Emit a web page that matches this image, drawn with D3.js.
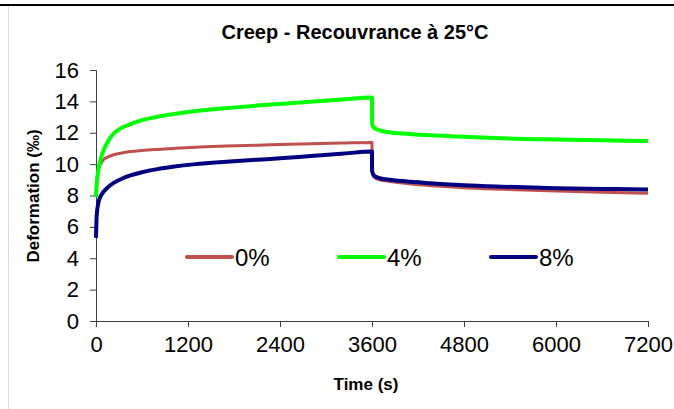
<!DOCTYPE html>
<html>
<head>
<meta charset="utf-8">
<script src="https://cdn.jsdelivr.net/npm/d3@7"></script>
<style>
  body { margin: 0; background: #fff; }
  svg text { font-family: "Liberation Sans", Arial, sans-serif; }
</style>
</head>
<body>
<script>
// data
const timeS = [0, 10, 30, 60, 100, 150, 230, 350, 450, 600, 800, 1000, 1300, 1700, 2100, 2400, 2800, 3200, 3600,
               3601, 3620, 3700, 3800, 4000, 4300, 4800, 5300, 6000, 6600, 7200];
const def0 = [7.9, 8.8, 9.6, 10.0, 10.3, 10.45, 10.6, 10.72, 10.8, 10.87, 10.94, 11.0, 11.08, 11.15, 11.21, 11.25, 11.3, 11.34, 11.38,
              9.6, 9.2, 9.0, 8.93, 8.8, 8.65, 8.5, 8.4, 8.28, 8.2, 8.14];
const def4 = [7.9, 8.8, 9.6, 10.3, 10.9, 11.4, 11.95, 12.35, 12.55, 12.8, 13.02, 13.18, 13.38, 13.57, 13.73, 13.84, 13.98, 14.12, 14.25,
              12.6, 12.35, 12.15, 12.05, 11.95, 11.85, 11.75, 11.65, 11.57, 11.52, 11.47];
const def8 = [5.3, 6.8, 7.5, 7.95, 8.25, 8.5, 8.8, 9.1, 9.28, 9.48, 9.68, 9.83, 10.0, 10.15, 10.28, 10.37, 10.52, 10.66, 10.8,
              9.6, 9.3, 9.1, 9.02, 8.92, 8.8, 8.65, 8.56, 8.47, 8.42, 8.38];
const seriesNames = ["0%", "4%", "8%"];
const xTicks = [0, 1200, 2400, 3600, 4800, 6000, 7200];
const yTicks = [0, 2, 4, 6, 8, 10, 12, 14, 16];

const W = 674, H = 409;
const margin = {top: 70, right: 26, bottom: 88, left: 96};
const width = W - margin.left - margin.right;
const height = H - margin.top - margin.bottom;

const svg = d3.select("body").append("svg")
    .attr("width", W)
    .attr("height", H);

// frame
svg.append("line")
    .attr("x1", 8.5).attr("x2", 8.5).attr("y1", 6).attr("y2", H)
    .attr("stroke", "#d9d9d9");
svg.append("line")
    .attr("x1", 0).attr("x2", W).attr("y1", 5).attr("y2", 5)
    .attr("stroke", "#000").attr("stroke-width", 2);

svg.append("text")
    .attr("x", 355).attr("y", 39)
    .attr("text-anchor", "middle")
    .attr("font-size", 20).attr("font-weight", "bold")
    .text("Creep - Recouvrance à 25°C");

const g = svg.append("g")
    .attr("transform", "translate(" + margin.left + "," + margin.top + ")");

const x = d3.scaleLinear().domain([0, 7200]).range([0, width]);
const y = d3.scaleLinear().domain([0, 16]).range([height, 0]);

const xAxis = g.append("g")
    .attr("transform", "translate(0," + height + ")")
    .call(d3.axisBottom(x).tickValues(xTicks).tickSize(6).tickPadding(9).tickFormat(d3.format("d")));
const yAxis = g.append("g")
    .call(d3.axisLeft(y).tickValues(yTicks).tickSize(6).tickPadding(11));

[xAxis, yAxis].forEach(function(a) {
    a.select(".domain").attr("stroke", "#404040");
    a.selectAll(".tick line").attr("stroke", "#404040");
    a.selectAll(".tick text")
        .attr("font-size", 22)
        .attr("fill", "#000")
        .style("font-family", "Liberation Sans, Arial, sans-serif");
});

svg.append("text")
    .attr("x", 366).attr("y", 390)
    .attr("text-anchor", "middle")
    .attr("font-size", 17).attr("font-weight", "bold")
    .text("Time  (s)");

svg.append("text")
    .attr("transform", "translate(39,196) rotate(-90)")
    .attr("text-anchor", "middle")
    .attr("font-size", 17).attr("font-weight", "bold")
    .text("Deformation  (‰)");

const series = [
    {name: seriesNames[0], values: def0, color: "#c0504d", w: 3},
    {name: seriesNames[1], values: def4, color: "#00ff00", w: 4},
    {name: seriesNames[2], values: def8, color: "#000080", w: 4}
];

const line = d3.line()
    .x(function(d) { return x(d.t); })
    .y(function(d) { return y(d.v); })
    .curve(d3.curveMonotoneX);

series.forEach(function(s) {
    const pts = timeS.map(function(t, i) { return {t: t, v: s.values[i]}; });
    g.append("path")
        .datum(pts)
        .attr("fill", "none")
        .attr("stroke", s.color)
        .attr("stroke-width", s.w)
        .attr("stroke-linejoin", "round")
        .attr("d", line);
});

// legend
const legendX = [187, 339, 491];
series.forEach(function(s, i) {
    const lg = svg.append("g").attr("transform", "translate(" + legendX[i] + ",257)");
    lg.append("line")
        .attr("x1", 0).attr("x2", 45)
        .attr("stroke", s.color).attr("stroke-width", 4)
        .attr("stroke-linecap", "round");
    lg.append("text")
        .attr("x", 48).attr("y", 9)
        .attr("font-size", 24)
        .text(s.name);
});
</script>
</body>
</html>
